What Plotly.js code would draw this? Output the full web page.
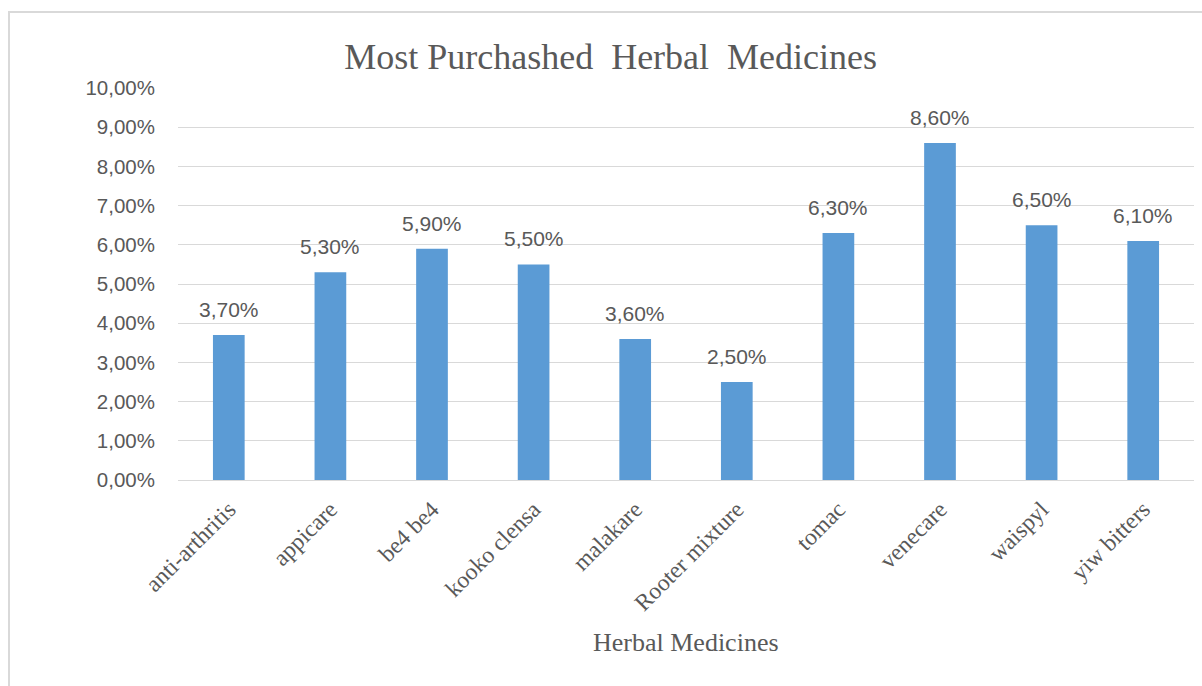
<!DOCTYPE html>
<html>
<head>
<meta charset="utf-8">
<script src="https://cdn.plot.ly/plotly-3.0.1.min.js"></script>
<style>html,body{margin:0;padding:0;background:#fff;}#chart{width:1202px;height:686px;}</style>
</head>
<body>
<div id="chart"></div>
<script>
const categories = ["anti-arthritis", "appicare", "be4 be4", "kooko clensa", "malakare", "Rooter mixture", "tomac", "venecare", "waispyl", "yiw bitters"];
const shares = [0.037, 0.053, 0.059, 0.055, 0.036, 0.025, 0.063, 0.086, 0.065, 0.061];
const chartTitle = "Most Purchashed\u00a0 Herbal\u00a0 Medicines";
const xTitle = "Herbal Medicines";

const gray = "#595959";
const sans = "Liberation Sans, Arial, sans-serif";
const serif = "Liberation Serif, Times New Roman, serif";

const labelAnnotations = categories.map((c, i) => ({
  x: c, y: shares[i], xref: "x", yref: "y",
  text: (shares[i] * 100).toFixed(2).replace(".", ",") + "%",
  showarrow: false, yanchor: "bottom", yshift: 12,
  font: {family: sans, size: 21, color: gray}
}));

const trace = {
  type: "bar",
  x: categories,
  y: shares,
  marker: {color: "#5B9BD5"},
  hoverinfo: "x+y"
};

const layout = {
  width: 1202, height: 686,
  margin: {l: 178, r: 8, t: 88, b: 206},
  paper_bgcolor: "#fff", plot_bgcolor: "#fff",
  separators: ",.",
  bargap: 0.688,
  showlegend: false,
  title: {
    text: chartTitle,
    font: {family: serif, size: 36, color: gray},
    xref: "container", x: 0.508, xanchor: "center",
    yref: "container", y: 1 - 56/686, yanchor: "middle"
  },
  xaxis: {
    type: "category",
    tickangle: -45,
    tickfont: {family: serif, size: 23.5, color: gray},
    showgrid: false,
    showline: false,
    ticks: "",
    zeroline: false,
    ticklabelstandoff: 10
  },
  yaxis: {
    range: [0, 0.10],
    dtick: 0.01,
    tick0: 0,
    tickformat: ".2%",
    tickfont: {family: sans, size: 20.5, color: gray},
    gridcolor: "#d9d9d9",
    gridwidth: 1,
    zeroline: true,
    zerolinecolor: "#d9d9d9",
    zerolinewidth: 1,
    showline: false,
    ticks: "",
    ticklabelstandoff: 22
  },
  annotations: labelAnnotations.concat([{
    text: xTitle, xref: "paper", yref: "paper", x: 0.5, y: -(642 - 480) / 392,
    xanchor: "center", yanchor: "middle", showarrow: false,
    font: {family: serif, size: 26, color: gray}
  }]),
  shapes: [{
    type: "rect", xref: "paper", yref: "paper",
    x0: (9 - 178) / 1016, x1: 1.05,
    y0: -0.6, y1: (480 - 12) / 392,
    line: {color: "#d9d9d9", width: 2},
    fillcolor: "rgba(0,0,0,0)",
    layer: "below"
  }]
};

Plotly.newPlot("chart", [trace], layout, {displayModeBar: false, staticPlot: true});
</script>
</body>
</html>
